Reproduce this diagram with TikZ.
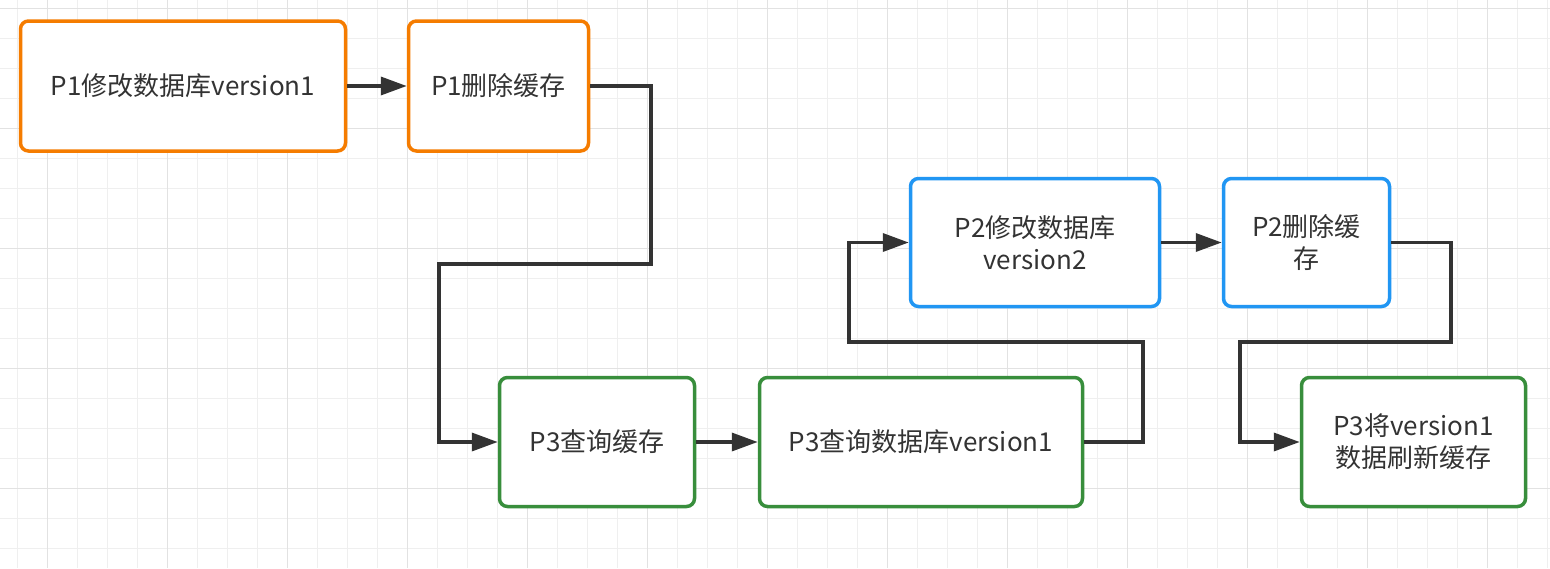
\documentclass[tikz,border=0pt]{standalone}
\usepackage{fontspec}
\setmainfont{Noto Sans CJK SC}
\usetikzlibrary{arrows.meta}
\definecolor{ora}{HTML}{F57C00}
\definecolor{blu}{HTML}{2196F3}
\definecolor{grn}{HTML}{388E3C}
\definecolor{ink}{HTML}{333333}
\definecolor{gridminor}{HTML}{EFEFEF}
\definecolor{gridmajor}{HTML}{E2E2E2}
\tikzset{
  box/.style={draw, rectangle, rounded corners=8pt, line width=3.5pt, fill=white,
    text=ink, align=center, inner sep=2pt,
    font=\fontsize{26}{32}\selectfont},
  orangebox/.style={box, draw=ora},
  bluebox/.style={box, draw=blu},
  greenbox/.style={box, draw=grn},
  conn/.style={draw=ink, line width=3.5pt,
    -{Triangle[length=26pt,width=18pt]}}
}
\begin{document}
\begin{tikzpicture}[x=1pt,y=-1pt]
\useasboundingbox (0,0) rectangle (1550,568);
\fill[white] (0,0) rectangle (1550,568);
% grid
\foreach \x in {17,47,...,1547} \draw[gridminor, line width=1pt] (\x,0) -- (\x,568);
\foreach \y in {8,38,...,560} \draw[gridminor, line width=1pt] (0,\y) -- (1550,\y);
\foreach \x in {47,167,...,1550} \draw[gridmajor, line width=1pt] (\x,0) -- (\x,568);
\foreach \y in {8,128,...,560} \draw[gridmajor, line width=1pt] (0,\y) -- (1550,\y);
% nodes
\node[orangebox, minimum width=325pt, minimum height=130pt] (A) at (183,86) {P1修改数据库version1};
\node[orangebox, minimum width=180pt, minimum height=130pt] (B) at (498.5,86) {P1删除缓存};
\node[bluebox, minimum width=249pt, minimum height=128pt] (C) at (1035,242.5) {P2修改数据库\\version2};
\node[bluebox, minimum width=166pt, minimum height=128pt] (D) at (1306.5,242.5) {P2删除缓\\存};
\node[greenbox, minimum width=195pt, minimum height=129pt] (E) at (597,442) {P3查询缓存};
\node[greenbox, minimum width=323pt, minimum height=129pt] (F) at (921,442) {P3查询数据库version1};
\node[greenbox, minimum width=224pt, minimum height=129pt] (G) at (1413.5,442) {P3将version1\\数据刷新缓存};
% routing points
\coordinate (b1) at (651,264);
\coordinate (b2) at (439,264);
\coordinate (f1) at (1143,342);
\coordinate (f2) at (849,342);
\coordinate (g1) at (1451,342);
\coordinate (g2) at (1240,342);
% connectors
\draw[conn] (A.east) -- (B.west);
\draw[conn] (B.east) -| (b1) -- (b2) |- (E.west);
\draw[conn] (E.east) -- (F.west);
\draw[conn] (F.east) -| (f1) -- (f2) |- (C.west);
\draw[conn] (C.east) -- (D.west);
\draw[conn] (D.east) -| (g1) -- (g2) |- (G.west);
\end{tikzpicture}
\end{document}
